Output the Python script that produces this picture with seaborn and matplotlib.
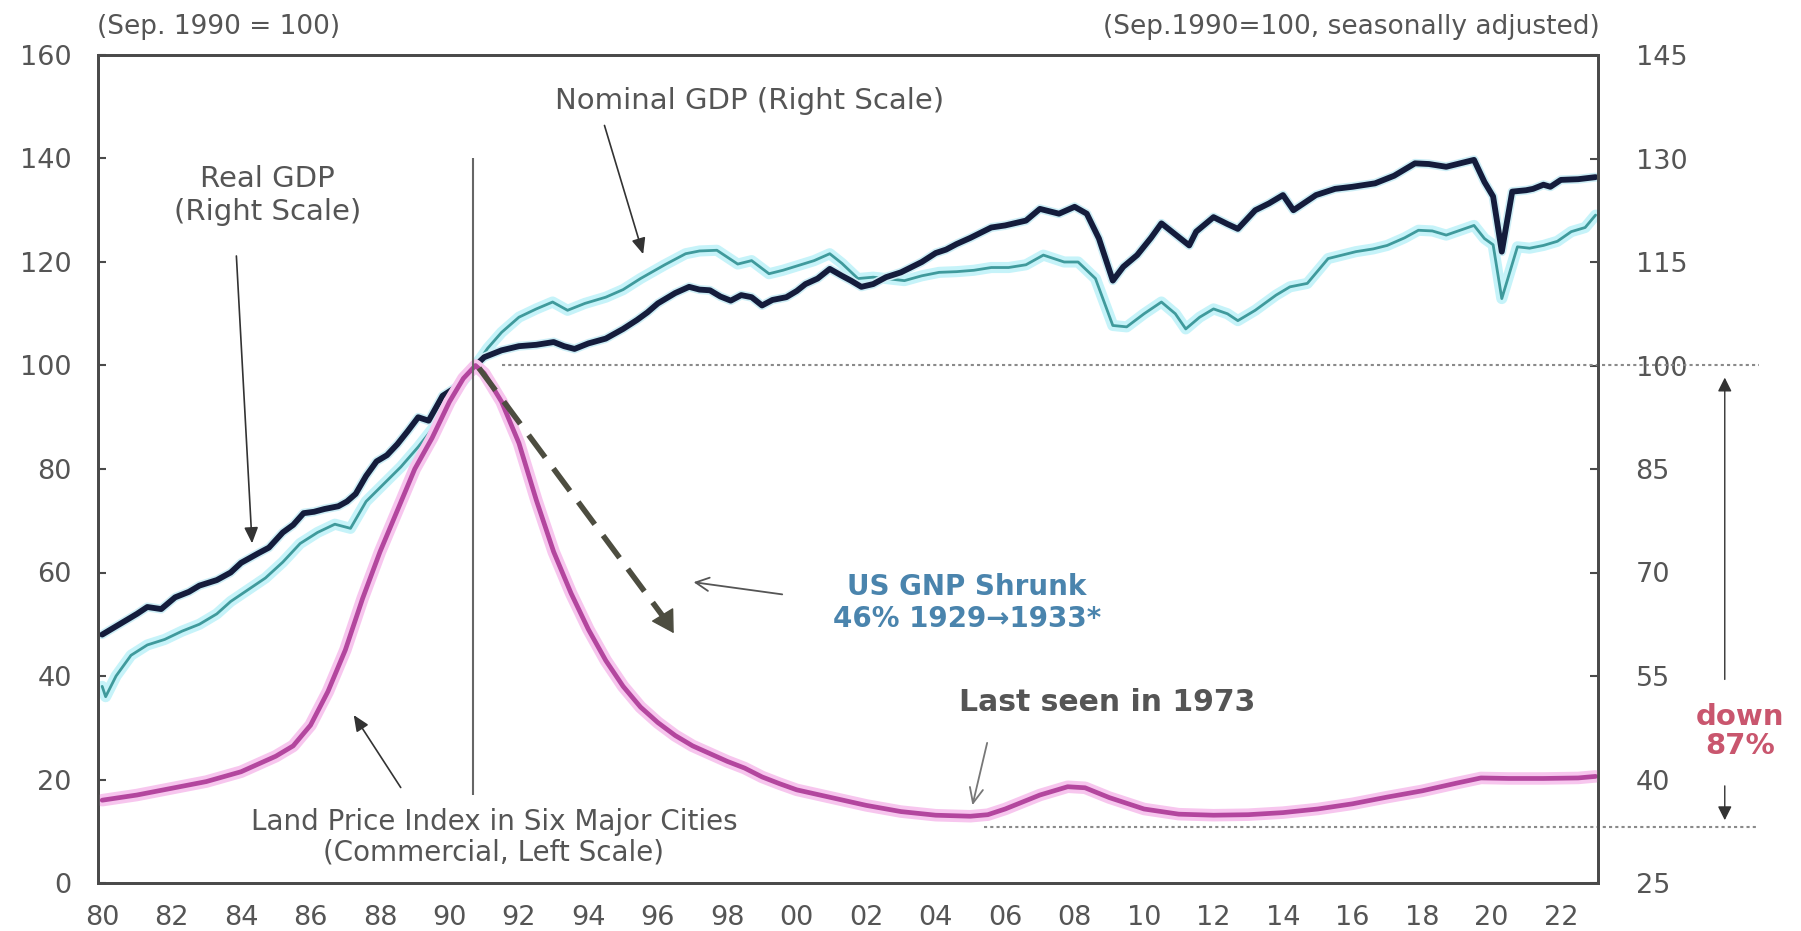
import matplotlib
matplotlib.use("Agg")
import matplotlib.pyplot as plt
import matplotlib.patheffects as pe
import seaborn as sns

# --- DATA ---
# Land price index, six major cities (commercial), left scale, Sep.1990 = 100
land_year = [1980.0, 1981.0, 1982.0, 1983.0, 1984.0, 1985.0, 1985.5, 1986.0, 1986.5, 1987.0,
             1987.5, 1988.0, 1988.5, 1989.0, 1989.5, 1990.0, 1990.4, 1990.75, 1991.0, 1991.5,
             1992.0, 1992.5, 1993.0, 1993.5, 1994.0, 1994.5, 1995.0, 1995.5, 1996.0, 1996.5,
             1997.0, 1997.5, 1998.0, 1998.5, 1999.0, 1999.5, 2000.0, 2001.0, 2002.0, 2003.0,
             2004.0, 2005.0, 2005.5, 2006.0, 2007.0, 2007.8, 2008.3, 2009.0, 2010.0, 2011.0,
             2012.0, 2013.0, 2014.0, 2015.0, 2016.0, 2017.0, 2018.0, 2019.0, 2019.7, 2020.5,
             2021.5, 2022.5, 2023.0]
land_idx = [16, 17, 18.3, 19.6, 21.5, 24.5, 26.5, 30.5, 37, 45,
            55, 64, 72, 80, 86, 93, 97.5, 100, 98.5, 93,
            85, 74, 64, 56, 49, 43, 38, 34, 31, 28.5,
            26.5, 25, 23.5, 22.2, 20.5, 19.2, 18, 16.5, 15, 13.8,
            13.1, 12.9, 13.2, 14.3, 17, 18.6, 18.4, 16.5, 14.3, 13.3,
            13.1, 13.2, 13.6, 14.3, 15.3, 16.6, 17.8, 19.3, 20.3, 20.2,
            20.2, 20.3, 20.6]

# Real GDP, right scale
real_year = [1980.0, 1980.5, 1981.0, 1981.3, 1981.7, 1982.1, 1982.5, 1982.8, 1983.3, 1983.7,
             1984.0, 1984.5, 1984.8, 1985.2, 1985.5, 1985.8, 1986.1, 1986.4, 1986.8, 1987.05,
             1987.3, 1987.6, 1987.9, 1988.2, 1988.5, 1988.8, 1989.1, 1989.4, 1989.8, 1990.2,
             1990.5, 1990.75, 1991.0, 1991.5, 1992.0, 1992.5, 1993.0, 1993.3, 1993.6, 1994.0,
             1994.5, 1995.0, 1995.4, 1995.7, 1996.0, 1996.5, 1996.9, 1997.2, 1997.5, 1997.8,
             1998.1, 1998.4, 1998.7, 1999.0, 1999.3, 1999.7, 2000.0, 2000.25, 2000.6, 2000.95,
             2001.3, 2001.56, 2001.86, 2002.2, 2002.57, 2003.0, 2003.6, 2004.0, 2004.3, 2004.6,
             2005.0, 2005.6, 2006.0, 2006.6, 2007.0, 2007.55, 2008.0, 2008.35, 2008.7, 2009.1,
             2009.4, 2009.8, 2010.2, 2010.5, 2010.9, 2011.3, 2011.5, 2012.0, 2012.4, 2012.7,
             2013.2, 2013.6, 2014.0, 2014.3, 2014.95, 2015.5, 2016.0, 2016.65, 2017.2, 2017.8,
             2018.2, 2018.7, 2019.1, 2019.5, 2019.8, 2020.05, 2020.3, 2020.6, 2021.0, 2021.2,
             2021.5, 2021.7, 2022.0, 2022.5, 2023.0]
real_gdp = [61.0, 62.5, 64.0, 65.0, 64.7, 66.4, 67.2, 68.1, 68.9, 70.0,
            71.4, 72.8, 73.6, 75.8, 76.9, 78.6, 78.8, 79.2, 79.6, 80.3,
            81.4, 84.0, 86.1, 87.0, 88.6, 90.5, 92.5, 92.0, 95.6, 96.9,
            98.5, 100.0, 101.2, 102.2, 102.8, 103.0, 103.4, 102.8, 102.4, 103.2,
            103.9, 105.3, 106.6, 107.7, 109.0, 110.5, 111.4, 111.0, 110.9, 110.0,
            109.4, 110.2, 109.9, 108.7, 109.5, 109.9, 110.8, 111.8, 112.6, 114.0,
            113.0, 112.3, 111.4, 111.8, 112.8, 113.5, 115.0, 116.3, 116.8, 117.6,
            118.5, 120.0, 120.3, 121.0, 122.7, 122.0, 123.0, 122.0, 118.4, 112.3,
            114.3, 116.0, 118.5, 120.6, 119.0, 117.4, 119.4, 121.5, 120.5, 119.8,
            122.5, 123.5, 124.7, 122.5, 124.7, 125.6, 125.9, 126.4, 127.5, 129.3,
            129.2, 128.8, 129.3, 129.8, 126.6, 124.5, 116.5, 125.2, 125.4, 125.6,
            126.2, 125.9, 126.9, 127.0, 127.3]

# Nominal GDP, right scale
nom_year = [1980.0, 1980.1, 1980.4, 1980.83, 1981.3, 1981.8, 1982.3, 1982.8, 1983.3, 1983.7,
            1984.2, 1984.7, 1985.2, 1985.7, 1986.2, 1986.7, 1987.15, 1987.6, 1988.1, 1988.6,
            1989.1, 1989.6, 1990.3, 1990.75, 1991.1, 1991.5, 1992.0, 1992.5, 1992.97, 1993.4,
            1993.9, 1994.5, 1995.0, 1995.5, 1996.2, 1996.8, 1997.2, 1997.7, 1998.3, 1998.7,
            1999.2, 1999.6, 2000.05, 2000.5, 2000.95, 2001.3, 2001.76, 2002.2, 2002.57, 2003.1,
            2003.6, 2004.1, 2004.6, 2005.1, 2005.6, 2006.1, 2006.6, 2007.1, 2007.7, 2008.1,
            2008.6, 2009.1, 2009.5, 2010.0, 2010.5, 2010.9, 2011.2, 2011.6, 2012.0, 2012.4,
            2012.7, 2013.2, 2013.8, 2014.2, 2014.7, 2015.3, 2016.1, 2016.6, 2017.0, 2017.5,
            2017.9, 2018.3, 2018.7, 2019.1, 2019.5, 2019.8, 2020.05, 2020.3, 2020.75, 2021.1,
            2021.5, 2021.9, 2022.3, 2022.7, 2023.0]
nom_gdp = [53.5, 52.0, 55.0, 58.0, 59.5, 60.3, 61.5, 62.5, 64.0, 65.8,
           67.5, 69.2, 71.5, 74.2, 75.8, 77.0, 76.4, 80.3, 82.8, 85.3,
           88.2, 91.4, 97.2, 100.0, 102.5, 104.8, 107.0, 108.2, 109.2, 108.0,
           109.0, 109.9, 111.0, 112.6, 114.6, 116.2, 116.6, 116.7, 114.7, 115.2,
           113.3, 113.8, 114.5, 115.2, 116.2, 114.8, 112.6, 112.8, 112.6, 112.3,
           113.0, 113.5, 113.6, 113.8, 114.2, 114.2, 114.6, 116.0, 115.0, 115.0,
           112.6, 105.8, 105.6, 107.5, 109.2, 107.5, 105.3, 107.0, 108.2, 107.5,
           106.5, 108.0, 110.2, 111.4, 111.9, 115.5, 116.5, 116.9, 117.4, 118.5,
           119.6, 119.5, 118.9, 119.6, 120.3, 118.4, 117.5, 109.7, 117.2, 117.0,
           117.4, 118.0, 119.4, 120.0, 121.8]

x_ticks = list(range(1980, 2023, 2))
x_labels = [f"{y % 100:02d}" for y in x_ticks]
left_ticks = [0, 20, 40, 60, 80, 100, 120, 140, 160]
right_ticks = [25, 40, 55, 70, 85, 100, 115, 130, 145]

# --- STYLE ---
sns.set_theme(style="white")
plt.rcParams['font.family'] = ['DejaVu Sans']
TXT = '#555555'

W, H = 1801, 931
fig = plt.figure(figsize=(W / 100, H / 100), dpi=100)
ax = fig.add_axes([98 / W, (H - 883) / H, 1500 / W, 828 / H])
ax2 = ax.twinx()
ax.set_zorder(ax2.get_zorder() + 1)
ax.patch.set_visible(False)

# GDP lines (right scale)
sns.lineplot(x=nom_year, y=nom_gdp, ax=ax2, color='#3f9a9c', linewidth=2.0, estimator=None)
ax2.lines[-1].set_path_effects([pe.Stroke(linewidth=8, foreground='#c6f3f9'), pe.Normal()])
sns.lineplot(x=real_year, y=real_gdp, ax=ax2, color='#141c3c', linewidth=4.2, estimator=None)
ax2.lines[-1].set_path_effects([pe.Stroke(linewidth=6.5, foreground='#cdeef6'), pe.Normal()])

# land price (left scale)
sns.lineplot(x=land_year, y=land_idx, ax=ax, color='#b3469e', linewidth=3.4, estimator=None)
ax.lines[-1].set_path_effects([pe.Stroke(linewidth=9, foreground='#f7c6ee'), pe.Normal()])

ax.set_xlim(1979.88, 2023.07)
ax.set_ylim(0, 160)
ax2.set_ylim(25, 145)
ax.set_xticks(x_ticks)
ax.set_xticklabels(x_labels)
ax.set_yticks(left_ticks)
ax2.set_yticks(right_ticks)
for a in (ax, ax2):
    a.set_xlabel('')
    a.set_ylabel('')
    for s in a.spines.values():
        s.set_color('#4a4a4a')
        s.set_linewidth(2)
ax.tick_params(axis='x', direction='in', length=6, width=1.5, color='#4a4a4a',
               labelsize=19.5, labelcolor=TXT, pad=16)
ax.tick_params(axis='y', direction='in', length=6, width=1.5, color='#4a4a4a',
               labelsize=19.5, labelcolor=TXT, pad=19)
ax2.tick_params(axis='y', direction='in', length=6, width=1.5, color='#4a4a4a',
                labelsize=19.5, labelcolor=TXT, pad=27)

# --- ANNOTATIONS ---
fig.text(97 / W, 1 - 27 / H, '(Sep. 1990 = 100)', ha='left', va='center', fontsize=19, color=TXT)
fig.text(1600 / W, 1 - 27 / H, '(Sep.1990=100, seasonally adjusted)', ha='right', va='center',
         fontsize=19, color=TXT)

ax.vlines(1990.67, 17, 140, color='#666666', linewidth=1.5)
ax.plot([1991.5, 2027.7], [100, 100], ls=(0, (1.5, 1.5)), color='#8a8a8a', lw=1.5, clip_on=False)
ax.plot([2005.4, 2027.7], [10.9, 10.9], ls=(0, (1.5, 1.5)), color='#8a8a8a', lw=1.5, clip_on=False)

thin = dict(arrowstyle='-|>,head_length=0.8,head_width=0.35', color='#333333', lw=1.2)
ax.text(1984.75, 132.85, 'Real GDP\n(Right Scale)', ha='center', va='center', fontsize=21,
        color=TXT, linespacing=1.2)
ax.annotate('', xy=(1984.32, 65.1), xytext=(1983.86, 121.7), arrowprops=thin)

ax.text(1993.04, 151.1, 'Nominal GDP (Right Scale)', ha='left', va='center', fontsize=21, color=TXT)
ax.annotate('', xy=(1995.6, 121), xytext=(1994.44, 146.9), arrowprops=thin)

ax.text(1991.28, 8.9, 'Land Price Index in Six Major Cities\n(Commercial, Left Scale)',
        ha='center', va='center', fontsize=20, color=TXT, linespacing=1.1)
ax.annotate('', xy=(1987.2, 32.9), xytext=(1988.64, 18), arrowprops=thin)

# dashed "US GNP" path
ax.plot([1990.85, 1996.15], [99.5, 51.5], ls=(0, (5, 2.5)), color='#4d4d40', lw=4)
ax.annotate('', xy=(1996.5, 47.8), xytext=(1996.1, 52.2),
            arrowprops=dict(arrowstyle='-|>,head_length=1.2,head_width=0.7', color='#4d4d40', lw=1))
ax.text(2004.9, 54.1, 'US GNP Shrunk\n46% 1929\u21921933*', ha='center', va='center',
        fontsize=20, fontweight='bold', color='#4a84ad', linespacing=1.15)
ax.annotate('', xy=(1996.95, 58.2), xytext=(1999.66, 55.7),
            arrowprops=dict(arrowstyle='->,head_length=0.8,head_width=0.4', color='#555555', lw=1.3))

ax.text(2008.93, 34.8, 'Last seen in 1973', ha='center', va='center', fontsize=21.5,
        fontweight='bold', color=TXT)
ax.annotate('', xy=(2005.04, 14.5), xytext=(2005.5, 27.6),
            arrowprops=dict(arrowstyle='->,head_length=0.9,head_width=0.4', color='#777777', lw=1.3))

# down 87% bracket on the right
xa = 2026.72
ax.annotate('', xy=(xa, 98.2), xytext=(xa, 38.8), annotation_clip=False,
            arrowprops=dict(arrowstyle='-|>,head_length=0.7,head_width=0.35', color='#333333', lw=1))
ax.annotate('', xy=(xa, 11.6), xytext=(xa, 19.3), annotation_clip=False,
            arrowprops=dict(arrowstyle='-|>,head_length=0.7,head_width=0.35', color='#333333', lw=1))
ax.text(2027.15, 29.2, 'down\n87%', ha='center', va='center', fontsize=21, fontweight='bold',
        color='#c9566e', linespacing=1.05, clip_on=False)

fig.savefig('out.png', dpi=100)
